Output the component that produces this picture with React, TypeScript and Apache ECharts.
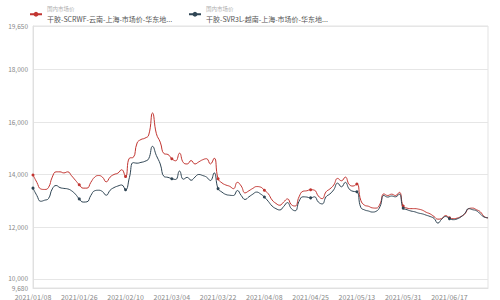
import React, { useEffect, useRef } from "react";
import * as echarts from "echarts";

const dates: string[] = [
  "2021/01/08","2021/01/11","2021/01/12","2021/01/13","2021/01/14","2021/01/15","2021/01/18","2021/01/19","2021/01/20","2021/01/21","2021/01/22","2021/01/25",
  "2021/01/26","2021/01/27","2021/01/28","2021/01/29","2021/02/01","2021/02/02","2021/02/03","2021/02/04","2021/02/05","2021/02/07","2021/02/08","2021/02/09",
  "2021/02/10","2021/02/18","2021/02/19","2021/02/20","2021/02/22","2021/02/23","2021/02/24","2021/02/25","2021/02/26","2021/03/01","2021/03/02","2021/03/03",
  "2021/03/04","2021/03/05","2021/03/08","2021/03/09","2021/03/10","2021/03/11","2021/03/12","2021/03/15","2021/03/16","2021/03/17","2021/03/18","2021/03/19",
  "2021/03/22","2021/03/23","2021/03/24","2021/03/25","2021/03/26","2021/03/29","2021/03/30","2021/03/31","2021/04/01","2021/04/02","2021/04/06","2021/04/07",
  "2021/04/08","2021/04/09","2021/04/12","2021/04/13","2021/04/14","2021/04/15","2021/04/16","2021/04/19","2021/04/20","2021/04/21","2021/04/22","2021/04/23",
  "2021/04/25","2021/04/26","2021/04/27","2021/04/28","2021/04/29","2021/04/30","2021/05/06","2021/05/07","2021/05/08","2021/05/10","2021/05/11","2021/05/12",
  "2021/05/13","2021/05/14","2021/05/17","2021/05/18","2021/05/19","2021/05/20","2021/05/21","2021/05/24","2021/05/25","2021/05/26","2021/05/27","2021/05/28",
  "2021/05/31","2021/06/01","2021/06/02","2021/06/03","2021/06/04","2021/06/07","2021/06/08","2021/06/09","2021/06/10","2021/06/11","2021/06/15","2021/06/16",
  "2021/06/17","2021/06/18","2021/06/21","2021/06/22","2021/06/23","2021/06/24","2021/06/25","2021/06/28","2021/06/29","2021/06/30","2021/07/01",
];

const scrwfValues: number[] = [
  13980,13700,13450,13430,13500,13900,14100,14100,14060,14100,13950,13780,
  13610,13480,13480,13700,13900,13960,13900,13720,13900,14000,14050,14180,
  13920,14620,14650,15200,15330,15380,15500,16340,15550,15230,14790,14760,
  14600,14520,14810,14450,14400,14530,14400,14480,14560,14600,14400,14620,
  13840,13680,13600,13550,13460,13700,13560,13300,13380,13470,13540,13520,
  13400,13270,13030,12900,12830,12950,13070,12850,12800,13150,13360,13380,
  13420,13400,13180,13080,13340,13450,13600,13850,13760,13900,13620,13560,
  13640,13020,12830,12790,12730,12720,12880,13260,13200,13250,13200,13320,
  12800,12720,12700,12700,12680,12640,12560,12500,12400,12300,12320,12440,
  12350,12320,12340,12400,12500,12700,12720,12660,12580,12400,12350,
];

const svr3lValues: number[] = [
  13480,13200,12980,13020,13080,13450,13580,13500,13470,13450,13380,13250,
  13070,12950,12960,13200,13380,13400,13350,13210,13400,13500,13560,13600,
  13420,13880,14450,14430,14460,14500,14600,15070,14720,14400,13920,13890,
  13840,13810,14130,13820,13890,13780,13900,14000,13960,13900,13770,14060,
  13460,13330,13240,13210,13200,13390,13200,13050,13150,13250,13330,13260,
  13140,12980,12800,12700,12650,12780,12930,12700,12620,12980,13150,13140,
  13110,13150,12950,12880,13150,13260,13420,13670,13530,13700,13450,13360,
  13340,12750,12650,12610,12570,12600,12780,13200,13140,13180,13150,13250,
  12720,12660,12610,12580,12530,12500,12450,12400,12330,12150,12300,12400,
  12320,12280,12310,12390,12520,12700,12660,12620,12500,12380,12350,
];

const seriesNames: string[] = [
  "干胶-SCRWF-云南-上海-市场价-华东地区",
  "干胶-SVR3L-越南-上海-市场价-华东地区",
];
const legendShort: string[] = [
  "干胶-SCRWF-云南-上海-市场价-华东地...",
  "干胶-SVR3L-越南-上海-市场价-华东地...",
];
const legendCategory = "国内市场价";
const yMin = 9680;
const yMax = 19650;
const yFirstTick = 10000;

export default function App() {
  const ref = useRef<HTMLDivElement>(null);
  useEffect(() => {
    if (!ref.current) return;
    const chart = echarts.init(ref.current, undefined, { renderer: "svg" });
    const font = "'Noto Sans CJK SC', 'Noto Sans', sans-serif";
    chart.setOption({
      animation: false,
      color: ["#c23531", "#2f4554"],
      textStyle: { fontFamily: font },
      legend: {
        left: 24,
        top: 1,
        itemWidth: 12,
        itemHeight: 6,
        itemGap: 16,
        data: seriesNames,
        formatter: (name: string) => {
          const i = seriesNames.indexOf(name);
          return "{a|" + legendCategory + "}\n{b|" + legendShort[i] + "}";
        },
        textStyle: {
          fontFamily: font,
          rich: {
            a: { fontSize: 5.5, color: "#b0b0b0", lineHeight: 9, fontFamily: font },
            b: { fontSize: 7, color: "#555", lineHeight: 11, fontFamily: font },
          },
        },
      },
      grid: {
        left: 33,
        right: 12,
        top: 26,
        bottom: 12,
        show: true,
        borderColor: "#e3e3e3",
        borderWidth: 1,
      },
      xAxis: {
        type: "category",
        data: dates,
        boundaryGap: false,
        axisLine: { lineStyle: { color: "#e0e0e0" } },
        axisTick: { show: false },
        axisLabel: {
          interval: 11,
          fontSize: 7,
          lineHeight: 7,
          color: "#888",
          margin: 5,
          fontFamily: font,
        },
      },
      yAxis: {
        type: "value",
        min: yMin,
        max: yMax,
        splitNumber: 5,
        axisLine: { show: true, lineStyle: { color: "#e0e0e0" } },
        axisTick: { show: false },
        splitLine: { lineStyle: { color: "#e6e6e6" } },
        axisLabel: {
          fontSize: 6.5,
          lineHeight: 6.5,
          color: "#888",
          margin: 5,
          fontFamily: font,
          showMinLabel: true,
          showMaxLabel: true,
          verticalAlign: "middle",
          formatter: (v: number) => {
            const s = echarts.format.addCommas(v);
            if (v === yMin) return "{lo|" + s + "}";
            if (v === yFirstTick) return "{hi|" + s + "}";
            return s;
          },
          rich: {
            lo: { fontSize: 6.5, lineHeight: 6.5, color: "#888", fontFamily: font },
            hi: { fontSize: 6.5, lineHeight: 6.5, color: "#888", fontFamily: font, padding: [0, 0, 3, 0] },
          },
        },
      },
      series: [
        {
          name: seriesNames[0],
          type: "line",
          data: scrwfValues,
          smooth: true,
          symbol: "circle",
          symbolSize: 3,
          lineStyle: { width: 1 },
        },
        {
          name: seriesNames[1],
          type: "line",
          data: svr3lValues,
          smooth: true,
          symbol: "circle",
          symbolSize: 3,
          lineStyle: { width: 1 },
        },
      ],
    });
    return () => chart.dispose();
  }, []);
  return <div ref={ref} style={{ width: 500, height: 300, position: "absolute", left: 0, top: 0 }} />;
}
